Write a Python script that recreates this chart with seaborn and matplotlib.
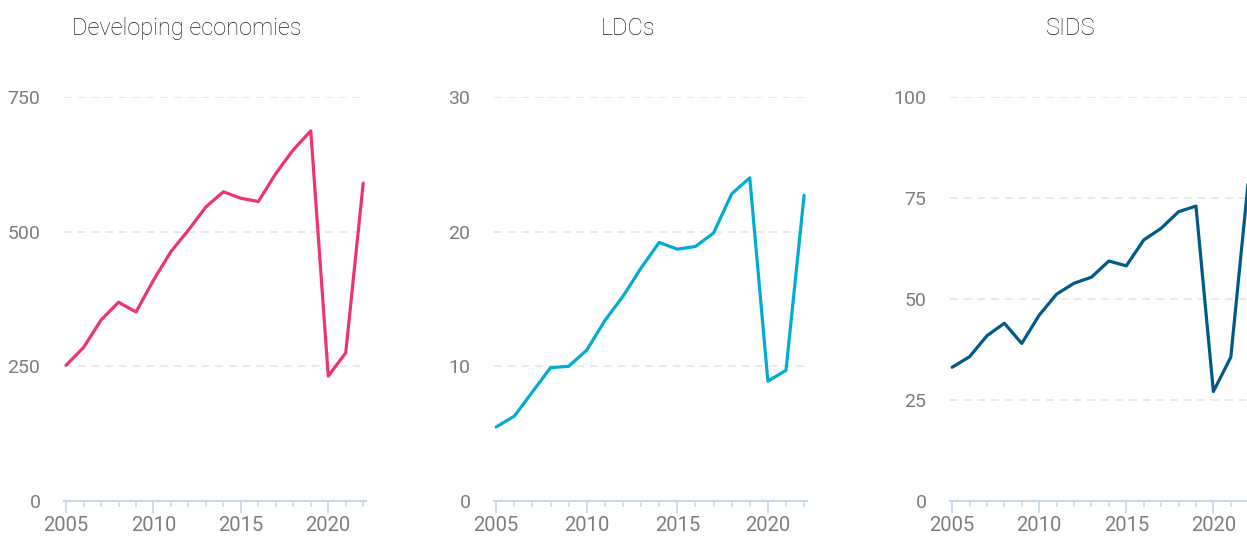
import numpy as np
import pandas as pd
import matplotlib
matplotlib.use('Agg')
import matplotlib.pyplot as plt
import seaborn as sns
from matplotlib.ticker import MultipleLocator

# Data
years = list(range(2005, 2023))
developing = [252, 285, 336, 369, 351, 410, 463, 503, 546, 574, 562, 556, 608, 652, 687, 232, 275, 590]
ldcs = [5.5, 6.3, 8.1, 9.9, 10.0, 11.2, 13.4, 15.2, 17.3, 19.2, 18.7, 18.9, 19.9, 22.8, 24.0, 8.9, 9.7, 22.7]
sids = [33.1, 35.7, 40.9, 44.0, 39.0, 46.0, 51.2, 53.9, 55.4, 59.4, 58.2, 64.6, 67.5, 71.6, 73.0, 27.1, 35.6, 79.0]

titles = ['Developing economies', 'LDCs', 'SIDS']
colors = ['#ec3374', '#00acd4', '#005a87']
y_max = [750, 30, 100]
y_step = [250, 10, 25]

sns.set_theme(style='white')
plt.rcParams['font.family'] = ['Roboto', 'DejaVu Sans']

W, H = 1247, 537
fig = plt.figure(figsize=(W / 100, H / 100), dpi=100)

# axes boxes in pixels: left, right ; title centre x
boxes = [(64, 366, 187), (494, 807, 628), (950, 1251, 1071)]
top_px, bottom_px = 97, 501

for i, (vals, title, col) in enumerate(zip([developing, ldcs, sids], titles, colors)):
    left, right, tx = boxes[i]
    ax = fig.add_axes([left / W, (H - bottom_px) / H, (right - left) / W, (bottom_px - top_px) / H])
    df = pd.DataFrame({'year': years, 'value': vals})
    sns.lineplot(data=df, x='year', y='value', ax=ax, color=col, linewidth=2.3, clip_on=False)

    ax.set_xlim(2004.88, 2022.16)
    ax.set_ylim(0, y_max[i])
    ax.yaxis.set_major_locator(MultipleLocator(y_step[i]))
    ax.xaxis.set_major_locator(MultipleLocator(5))
    ax.xaxis.set_minor_locator(MultipleLocator(1))
    ax.set_xlabel('')
    ax.set_ylabel('')

    ax.grid(axis='y', color='#e3e3e3', linestyle=(0, (5, 4)), linewidth=1.1)
    ax.grid(axis='x', visible=False)
    for s in ['top', 'right', 'left']:
        ax.spines[s].set_visible(False)
    ax.spines['bottom'].set_color('#c4d8ea')
    ax.spines['bottom'].set_linewidth(1.5)

    ax.tick_params(axis='x', which='major', direction='out', length=8.5, width=1.3,
                   color='#c4d8ea', labelsize=14.5, labelcolor='#7d7d7d', pad=2.5, bottom=True)
    ax.tick_params(axis='x', which='minor', direction='out', length=4.5, width=1.1,
                   color='#c4d8ea', bottom=True)
    ax.tick_params(axis='y', length=0, pad=17, labelsize=14, labelcolor='#7d7d7d')

    fig.text(tx / W, 1 - 28.5 / H, title, ha='center', va='center',
             fontsize=17, color='#222222', fontweight='light')

fig.savefig('out.png', dpi=100)
